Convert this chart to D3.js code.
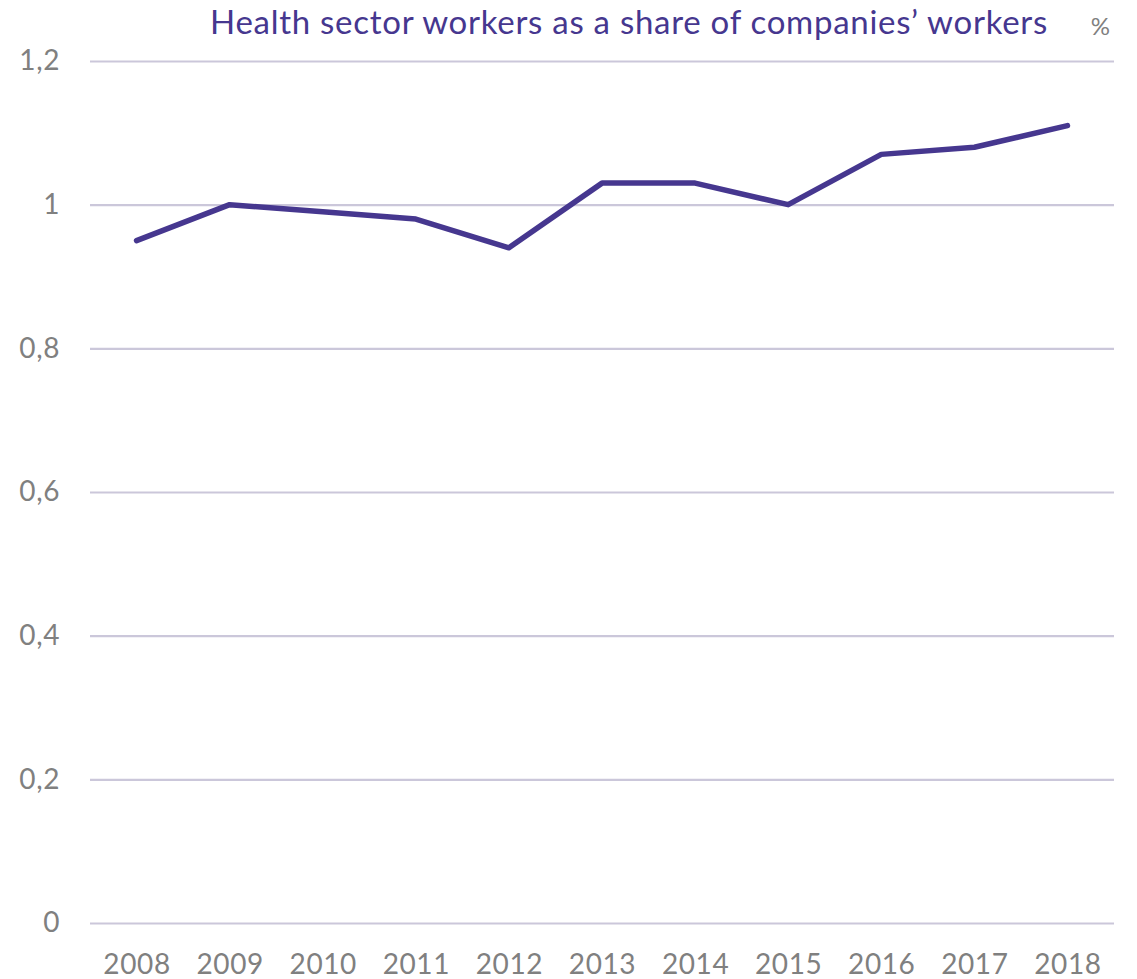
<!DOCTYPE html>
<html>
<head>
<meta charset="utf-8">
<script src="https://cdn.jsdelivr.net/npm/d3@7"></script>
<style>
  html, body { margin: 0; padding: 0; background: #fff; }
  svg { display: block; }
</style>
</head>
<body>
<svg id="chart" width="1137" height="979"></svg>
<script>
// Share of health sector workers among all company workers, %
const years = ["2008", "2009", "2010", "2011", "2012", "2013", "2014", "2015", "2016", "2017", "2018"];
const shares = [0.95, 1.00, 0.99, 0.98, 0.94, 1.03, 1.03, 1.00, 1.07, 1.08, 1.11];
const yTicks = [0, 0.2, 0.4, 0.6, 0.8, 1, 1.2];
const titleText = "Health sector workers as a share of companies\u2019 workers";
const unitText = "%";

const svg = d3.select("#chart");
const font = "Lato, 'Open Sans', sans-serif";
const plotLeft = 90, plotRight = 1114, plotTop = 61, plotBottom = 923;

const x = d3.scalePoint().domain(years).range([plotLeft, plotRight]).padding(0.5);
const y = d3.scaleLinear().domain([0, 1.2]).range([plotBottom, plotTop]);

const fmt = v => String(v).replace(".", ",");

// Horizontal gridlines
svg.append("g")
  .attr("transform", `translate(${plotLeft},0)`)
  .call(d3.axisLeft(y).tickValues(yTicks).tickSize(-(plotRight - plotLeft)).tickFormat(""))
  .call(g => g.select(".domain").remove())
  .call(g => g.selectAll(".tick line").attr("stroke", "#cbc7da").attr("stroke-width", 2.2));

// Y tick labels
svg.append("g")
  .attr("transform", `translate(60,0)`)
  .call(d3.axisLeft(y).tickValues(yTicks).tickSize(0).tickPadding(0).tickFormat(fmt))
  .call(g => g.select(".domain").remove())
  .call(g => g.selectAll("text")
    .attr("fill", "#808080").attr("font-family", font).attr("font-size", 28)
    .attr("letter-spacing", 0.6));

// X tick labels
svg.append("g")
  .attr("transform", `translate(0,${plotBottom})`)
  .call(d3.axisBottom(x).tickSize(0).tickPadding(31))
  .call(g => g.select(".domain").remove())
  .call(g => g.selectAll("text")
    .attr("fill", "#808080").attr("font-family", font).attr("font-size", 28)
    .attr("letter-spacing", 0.6));

// Data line
const line = d3.line().x((d, i) => x(years[i])).y(d => y(d));
svg.append("path")
  .datum(shares)
  .attr("d", line)
  .attr("fill", "none")
  .attr("stroke", "#46378f")
  .attr("stroke-width", 5.5)
  .attr("stroke-linejoin", "round")
  .attr("stroke-linecap", "round");

// Title and unit
const title = svg.append("text")
  .attr("x", 1048).attr("y", 34)
  .attr("text-anchor", "end")
  .attr("fill", "#46378f")
  .attr("font-family", font).attr("font-size", 33)
  .text(titleText);
// stretch the title to its full span
const tw = title.node().getComputedTextLength();
const target = 838;
title.attr("letter-spacing", (target - tw) / titleText.length);

svg.append("text")
  .attr("x", 1110).attr("y", 35)
  .attr("text-anchor", "end")
  .attr("fill", "#808080")
  .attr("font-family", font).attr("font-size", 24)
  .text(unitText);
</script>
</body>
</html>
